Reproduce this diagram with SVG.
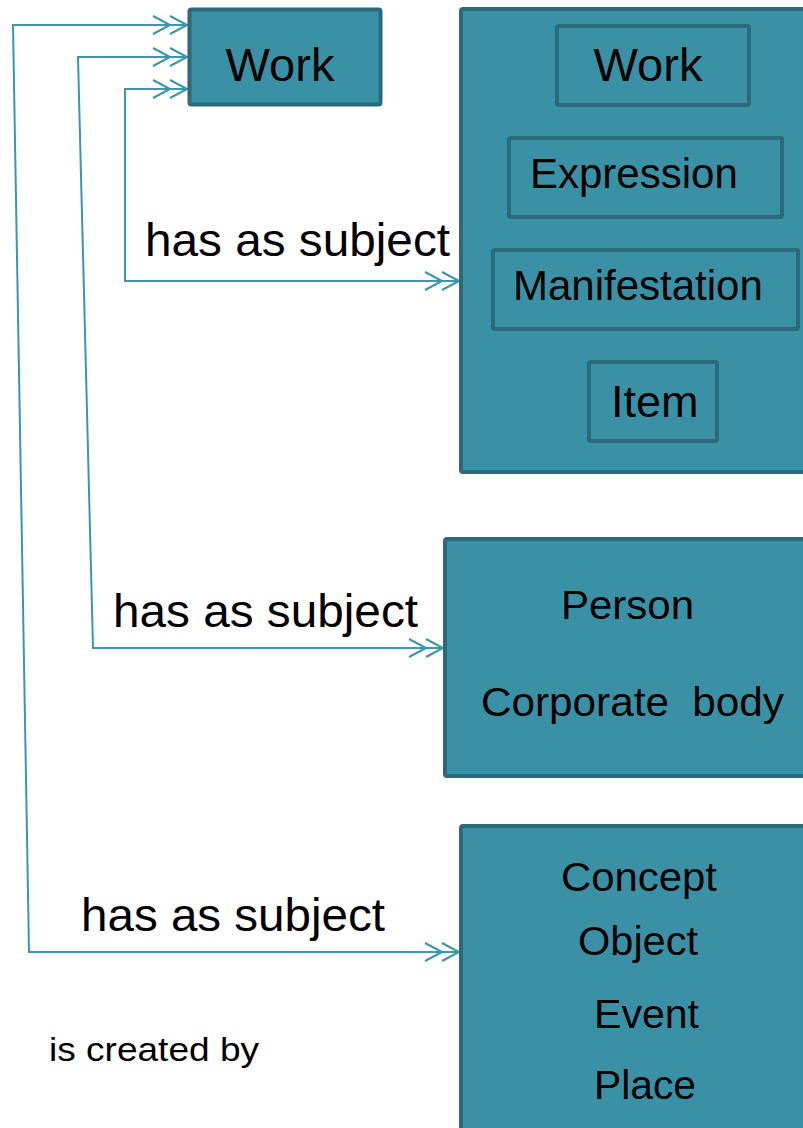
<svg xmlns="http://www.w3.org/2000/svg" width="803" height="1128" viewBox="0 0 803 1128">
<style>
.box{fill:#3a91a6;stroke:#2a6a7b;stroke-width:4}
.t{font-family:"Liberation Sans",Arial,sans-serif;fill:#000}
.conn{fill:none;stroke:#3b97ac;stroke-width:2}
</style>
<defs>
<marker id="dbl" markerUnits="userSpaceOnUse" markerWidth="40" markerHeight="24" viewBox="-2 -2 40 24" refX="34" refY="9" orient="auto-start-reverse">
<path d="M0,0 L17,9 L0,18 M17,0 L34,9 L17,18 M0,9 L34,9" fill="none" stroke="#3b97ac" stroke-width="2.2"/>
</marker>
</defs>
<rect width="803" height="1128" fill="#fff"/>
<g id="connectors">
<path class="conn" d="M187,25 L13,25 L29,952 L459,952" marker-start="url(#dbl)" marker-end="url(#dbl)"/>
<path class="conn" d="M187,57 L78,57 L93,648 L443,648" marker-start="url(#dbl)" marker-end="url(#dbl)"/>
<path class="conn" d="M187,89 L125,89 L125,281 L459,281" marker-start="url(#dbl)" marker-end="url(#dbl)"/>
</g>
<g id="work">
<rect class="box" x="189.5" y="9.5" width="191" height="95" rx="2"/>
<text class="t" x="280" y="81" font-size="47" text-anchor="middle">Work</text>
</g>
<g id="group1">
<rect class="box" x="461" y="9" width="370" height="463" rx="2"/>
<g id="g1-work">
<rect class="box" x="557" y="26" width="192" height="79" rx="2"/>
<text class="t" x="648" y="81" font-size="47" text-anchor="middle">Work</text>
</g>
<g id="g1-expression">
<rect class="box" x="509" y="138" width="273" height="79" rx="2"/>
<text class="t" x="530" y="188" font-size="42">Expression</text>
</g>
<g id="g1-manifestation">
<rect class="box" x="493" y="250" width="305" height="79" rx="2"/>
<text class="t" x="513" y="300" font-size="42">Manifestation</text>
</g>
<g id="g1-item">
<rect class="box" x="589" y="362" width="128" height="79" rx="2"/>
<text class="t" x="611" y="417" font-size="45">Item</text>
</g>
</g>
<g id="group2">
<rect class="box" x="445" y="539" width="380" height="237" rx="2"/>
<text class="t" x="561" y="619" font-size="41" textLength="133" lengthAdjust="spacingAndGlyphs">Person</text>
<text class="t" x="481" y="716" font-size="41" textLength="303" lengthAdjust="spacingAndGlyphs" xml:space="preserve">Corporate  body</text>
</g>
<g id="group3">
<rect class="box" x="461" y="826" width="370" height="320" rx="2"/>
<text class="t" x="561" y="891" font-size="41" textLength="156" lengthAdjust="spacingAndGlyphs">Concept</text>
<text class="t" x="578" y="955" font-size="41" textLength="120" lengthAdjust="spacingAndGlyphs">Object</text>
<text class="t" x="594" y="1028" font-size="41" textLength="105" lengthAdjust="spacingAndGlyphs">Event</text>
<text class="t" x="594" y="1099" font-size="41" textLength="102" lengthAdjust="spacingAndGlyphs">Place</text>
</g>
<g id="labels">
<text class="t" x="145" y="256" font-size="46" textLength="305" lengthAdjust="spacingAndGlyphs">has as subject</text>
<text class="t" x="113" y="627" font-size="46" textLength="305" lengthAdjust="spacingAndGlyphs">has as subject</text>
<text class="t" x="81" y="931" font-size="46" textLength="304" lengthAdjust="spacingAndGlyphs">has as subject</text>
<text class="t" x="49" y="1061" font-size="34" textLength="210" lengthAdjust="spacingAndGlyphs">is created by</text>
</g>
</svg>
